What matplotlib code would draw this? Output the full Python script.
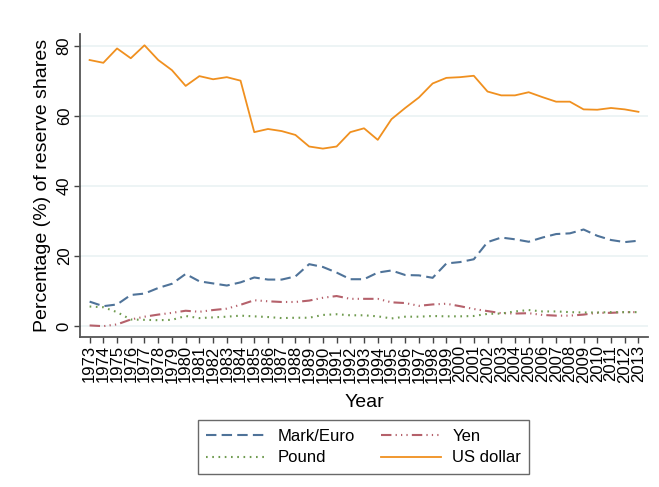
import matplotlib
matplotlib.use('Agg')
import matplotlib.pyplot as plt

plt.rcParams['font.family'] = ['Liberation Sans', 'DejaVu Sans']

years = list(range(1973, 2014))

us_dollar = [76.0, 75.2, 79.3, 76.5, 80.2, 76.0, 73.1, 68.6, 71.4, 70.5,
             71.1, 70.1, 55.4, 56.3, 55.7, 54.6, 51.3, 50.7, 51.3, 55.4,
             56.5, 53.2, 59.1, 62.3, 65.3, 69.3, 70.9, 71.1, 71.5, 67.0,
             65.9, 65.9, 66.8, 65.4, 64.1, 64.1, 61.9, 61.8, 62.3, 61.9,
             61.2]
mark_euro = [7.0, 5.7, 6.2, 8.9, 9.3, 10.9, 12.1, 14.9, 12.8, 12.2,
             11.6, 12.5, 13.9, 13.3, 13.3, 14.2, 17.7, 16.9, 15.3, 13.4,
             13.4, 15.3, 15.9, 14.6, 14.5, 13.8, 17.9, 18.3, 19.1, 24.0,
             25.3, 24.8, 24.1, 25.3, 26.3, 26.5, 27.6, 25.8, 24.6, 24.0,
             24.4]
yen = [0.2, 0.0, 0.5, 1.9, 2.7, 3.3, 3.8, 4.4, 4.1, 4.6,
       5.0, 6.1, 7.4, 7.1, 6.9, 6.9, 7.3, 8.1, 8.6, 7.8,
       7.8, 7.8, 6.8, 6.6, 5.8, 6.2, 6.4, 5.7, 4.9, 4.3,
       3.7, 3.6, 3.7, 3.2, 3.0, 3.0, 3.3, 3.8, 3.8, 4.0,
       4.0]
pound = [5.6, 5.4, 4.0, 1.9, 1.8, 1.7, 1.8, 2.9, 2.3, 2.5,
         2.7, 3.0, 2.8, 2.6, 2.3, 2.4, 2.4, 3.2, 3.4, 3.1,
         3.1, 2.8, 2.2, 2.7, 2.7, 2.9, 2.8, 2.8, 2.9, 3.5,
         3.6, 4.2, 4.6, 4.2, 4.2, 4.0, 3.9, 3.9, 4.0, 4.0,
         4.0]

fig = plt.figure(figsize=(6.59, 4.87), dpi=100)
ax = fig.add_axes([0.1214, 0.308, 0.862, 0.622])

for v in [0, 20, 40, 60, 80]:
    ax.axhline(v, color='#eaf2f4', lw=1.2, zorder=0)

l_me, = ax.plot(years, mark_euro, color='#4f7399', lw=1.5, dashes=(5, 2.5), label='Mark/Euro')
l_yen, = ax.plot(years, yen, color='#b5616b', lw=1.5, dashes=(5, 2, 0.6, 2, 0.6, 2, 0.6, 2), label='Yen')
l_gbp, = ax.plot(years, pound, color='#6f9b4f', lw=1.5, dashes=(0.8, 2.2), label='Pound')
l_usd, = ax.plot(years, us_dollar, color='#f0901f', lw=1.3, label='US dollar')

ax.set_xlim(1972.3, 2013.7)
ax.set_ylim(-3.1, 83.4)
ax.set_xticks(years)
ax.set_xticklabels([str(y) for y in years], rotation=90, fontsize=12)
ax.set_yticks([0, 20, 40, 60, 80])
ax.set_yticklabels(['0', '20', '40', '60', '80'], rotation=90, va='center', fontsize=12)
ax.tick_params(direction='out', length=4, width=1, color='#444444', pad=2)

for s in ['top', 'right']:
    ax.spines[s].set_visible(False)
for s in ['left', 'bottom']:
    ax.spines[s].set_color('#555555')
    ax.spines[s].set_linewidth(1.3)

ax.set_xlabel('Year', fontsize=14, labelpad=8)
ax.set_ylabel('Percentage (%) of reserve shares', fontsize=14, labelpad=4)

leg = fig.legend([l_me, l_gbp, l_yen, l_usd], ['Mark/Euro', 'Pound', 'Yen', 'US dollar'],
                 loc='center', bbox_to_anchor=(0.552, 0.082), ncol=2, fontsize=12,
                 frameon=True, fancybox=False, handlelength=3.6, columnspacing=1.6,
                 borderpad=0.5, labelspacing=0.4, handletextpad=0.65)
leg.get_frame().set_edgecolor('#444444')
leg.get_frame().set_linewidth(1.0)

fig.savefig('out.png', dpi=100)
